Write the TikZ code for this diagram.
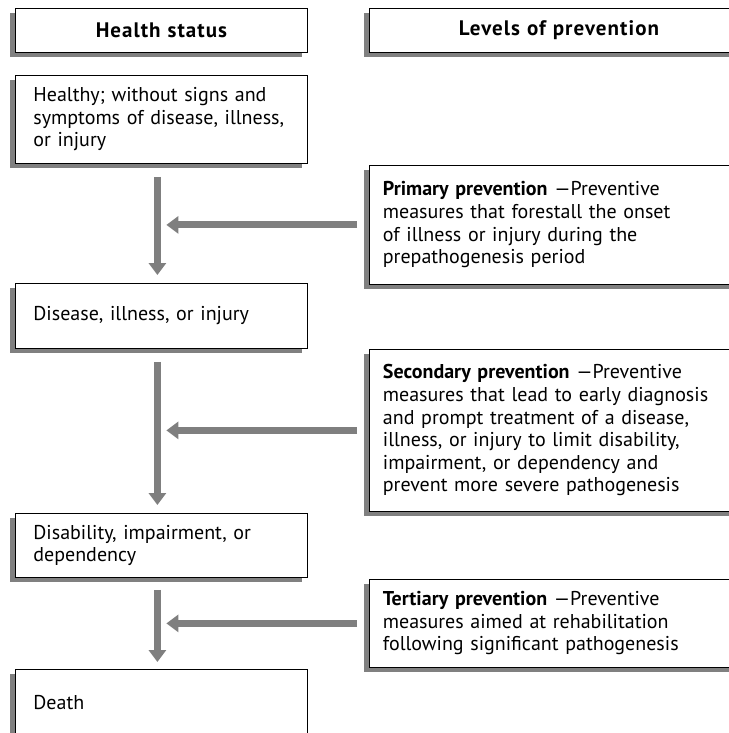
\documentclass[tikz,border=0pt]{standalone}
\usepackage{fontspec}
\setmainfont{PT Sans}
\usetikzlibrary{arrows.meta,shadows}
\definecolor{shadowgray}{RGB}{128,128,128}
\definecolor{arrowgray}{RGB}{127,127,127}
\tikzset{
  boxbase/.style={draw=black, line width=0.8pt, fill=white, rectangle,
    anchor=north west, inner ysep=0pt, align=left,
    drop shadow={shadow xshift=-5pt, shadow yshift=-5pt, fill=shadowgray, opacity=1},
    font=\fontsize{20}{22.6}\selectfont},
  leftbox/.style={boxbase, inner xsep=18pt, text width=256pt},
  rightbox/.style={boxbase, inner xsep=13.5pt, text width=352pt},
  lefthdr/.style={boxbase, inner xsep=0pt, text width=292pt, align=center,
    minimum height=44pt, font=\fontsize{21}{22.6}\selectfont\bfseries\addfontfeatures{LetterSpace=5}},
  righthdr/.style={boxbase, inner xsep=0pt, text width=379pt, align=center,
    minimum height=44pt, font=\fontsize{21}{22.6}\selectfont\bfseries\addfontfeatures{LetterSpace=5}},
  flow/.style={draw=arrowgray, line width=7pt,
    -{Triangle[width=17pt,length=12pt]}}
}
\begin{document}
\begin{tikzpicture}[x=1pt,y=-1pt]
\useasboundingbox (0,0) rectangle (728,733);
% headers
\node[lefthdr]  (hs) at (15,8)  {Health status};
\node[righthdr] (lp) at (369,8) {Levels of prevention};
% health status column
\node[leftbox, minimum height=88pt] (healthy) at (15,75)
  {Healthy; without signs and\\symptoms of disease, illness,\\or injury};
\node[leftbox, minimum height=65pt] (disease) at (15,283)
  {Disease, illness, or injury};
\node[leftbox, minimum height=64pt] (disab) at (15,513)
  {Disability, impairment, or\\dependency};
\node[leftbox, minimum height=66pt] (death) at (15,669)
  {Death};
% prevention column
\node[rightbox, minimum height=119pt] (prim) at (369,165)
  {\textbf{Primary prevention} —Preventive\\measures that forestall the onset\\of illness or injury during the\\prepathogenesis period};
\node[rightbox, minimum height=162pt] (sec) at (369,349)
  {\textbf{Secondary prevention} —Preventive\\measures that lead to early diagnosis\\and prompt treatment of a disease,\\illness, or injury to limit disability,\\impairment, or dependency and\\prevent more severe pathogenesis};
\node[rightbox, minimum height=88pt] (ter) at (369,579)
  {\textbf{Tertiary prevention} —Preventive\\measures aimed at rehabilitation\\following significant pathogenesis};
% vertical arrows
\draw[flow] ([xshift=-4pt,yshift=-13pt]healthy.south) -- ([xshift=-4pt,yshift=8pt]disease.north);
\draw[flow] ([xshift=-4pt,yshift=-13pt]disease.south) -- ([xshift=-4pt,yshift=8pt]disab.north);
\draw[flow] ([xshift=-4pt,yshift=-12pt]disab.south) -- ([xshift=-4pt,yshift=7pt]death.north);
% horizontal arrows
\draw[flow] ([xshift=-12pt]prim.west) -- ([xshift=5pt]prim.west -| healthy.south);
\draw[flow] ([xshift=-12pt]sec.west) -- ([xshift=5pt]sec.west -| healthy.south);
\draw[flow] ([xshift=-12pt]ter.west) -- ([xshift=5pt]ter.west -| healthy.south);
\end{tikzpicture}
\end{document}
